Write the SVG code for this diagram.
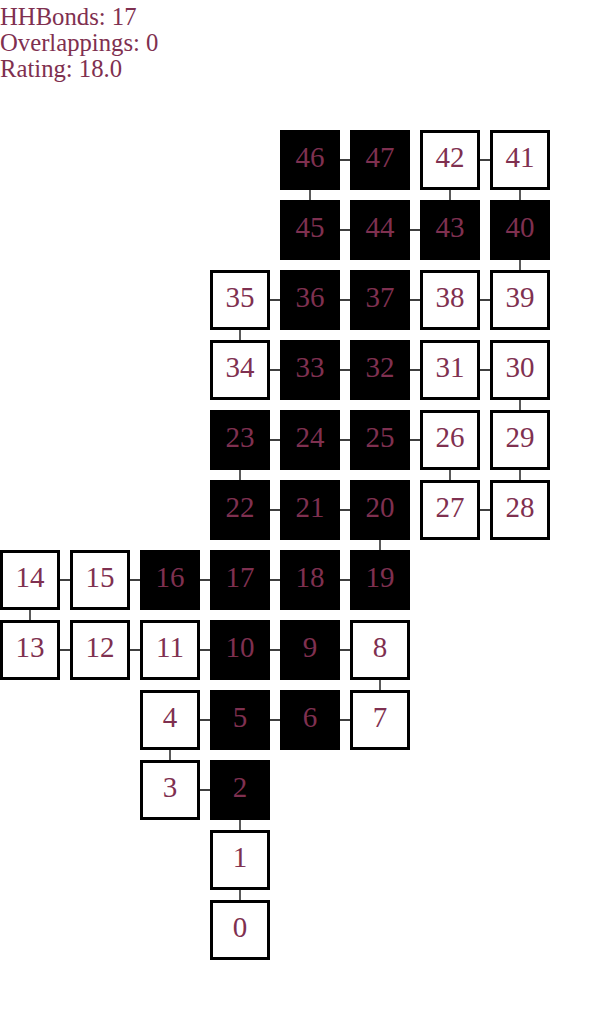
<svg xmlns="http://www.w3.org/2000/svg" width="600" height="1025" viewBox="0 0 600 1025">
<style>
text{font-family:"Liberation Serif","Times New Roman",serif;fill:#7f3050}
.h{font-size:24.7px}
.l{font-size:29px;text-anchor:middle}
.w{fill:#fff;stroke:#000;stroke-width:3}
.b{fill:#000}
#connectors line{stroke:#000;stroke-width:1.3}
</style>
<rect width="600" height="1025" fill="#fff"/>
<g id="header">
<text class="h" x="0" y="25">HHBonds: 17</text>
<text class="h" x="0" y="51">Overlappings: 0</text>
<text class="h" x="0" y="77">Rating: 18.0</text>
</g>
<g id="connectors">
<line x1="240" y1="930" x2="240" y2="860"/>
<line x1="240" y1="860" x2="240" y2="790"/>
<line x1="240" y1="790" x2="170" y2="790"/>
<line x1="170" y1="790" x2="170" y2="720"/>
<line x1="170" y1="720" x2="240" y2="720"/>
<line x1="240" y1="720" x2="310" y2="720"/>
<line x1="310" y1="720" x2="380" y2="720"/>
<line x1="380" y1="720" x2="380" y2="650"/>
<line x1="380" y1="650" x2="310" y2="650"/>
<line x1="310" y1="650" x2="240" y2="650"/>
<line x1="240" y1="650" x2="170" y2="650"/>
<line x1="170" y1="650" x2="100" y2="650"/>
<line x1="100" y1="650" x2="30" y2="650"/>
<line x1="30" y1="650" x2="30" y2="580"/>
<line x1="30" y1="580" x2="100" y2="580"/>
<line x1="100" y1="580" x2="170" y2="580"/>
<line x1="170" y1="580" x2="240" y2="580"/>
<line x1="240" y1="580" x2="310" y2="580"/>
<line x1="310" y1="580" x2="380" y2="580"/>
<line x1="380" y1="580" x2="380" y2="510"/>
<line x1="380" y1="510" x2="310" y2="510"/>
<line x1="310" y1="510" x2="240" y2="510"/>
<line x1="240" y1="510" x2="240" y2="440"/>
<line x1="240" y1="440" x2="310" y2="440"/>
<line x1="310" y1="440" x2="380" y2="440"/>
<line x1="380" y1="440" x2="450" y2="440"/>
<line x1="450" y1="440" x2="450" y2="510"/>
<line x1="450" y1="510" x2="520" y2="510"/>
<line x1="520" y1="510" x2="520" y2="440"/>
<line x1="520" y1="440" x2="520" y2="370"/>
<line x1="520" y1="370" x2="450" y2="370"/>
<line x1="450" y1="370" x2="380" y2="370"/>
<line x1="380" y1="370" x2="310" y2="370"/>
<line x1="310" y1="370" x2="240" y2="370"/>
<line x1="240" y1="370" x2="240" y2="300"/>
<line x1="240" y1="300" x2="310" y2="300"/>
<line x1="310" y1="300" x2="380" y2="300"/>
<line x1="380" y1="300" x2="450" y2="300"/>
<line x1="450" y1="300" x2="520" y2="300"/>
<line x1="520" y1="300" x2="520" y2="230"/>
<line x1="520" y1="230" x2="520" y2="160"/>
<line x1="520" y1="160" x2="450" y2="160"/>
<line x1="450" y1="160" x2="450" y2="230"/>
<line x1="450" y1="230" x2="380" y2="230"/>
<line x1="380" y1="230" x2="310" y2="230"/>
<line x1="310" y1="230" x2="310" y2="160"/>
<line x1="310" y1="160" x2="380" y2="160"/>
</g>
<g id="n0"><rect class="w" x="211.5" y="901.5" width="57" height="57"/><text class="l" x="240" y="937">0</text></g>
<g id="n1"><rect class="w" x="211.5" y="831.5" width="57" height="57"/><text class="l" x="240" y="867">1</text></g>
<g id="n2"><rect class="b" x="210" y="760" width="60" height="60"/><text class="l" x="240" y="797">2</text></g>
<g id="n3"><rect class="w" x="141.5" y="761.5" width="57" height="57"/><text class="l" x="170" y="797">3</text></g>
<g id="n4"><rect class="w" x="141.5" y="691.5" width="57" height="57"/><text class="l" x="170" y="727">4</text></g>
<g id="n5"><rect class="b" x="210" y="690" width="60" height="60"/><text class="l" x="240" y="727">5</text></g>
<g id="n6"><rect class="b" x="280" y="690" width="60" height="60"/><text class="l" x="310" y="727">6</text></g>
<g id="n7"><rect class="w" x="351.5" y="691.5" width="57" height="57"/><text class="l" x="380" y="727">7</text></g>
<g id="n8"><rect class="w" x="351.5" y="621.5" width="57" height="57"/><text class="l" x="380" y="657">8</text></g>
<g id="n9"><rect class="b" x="280" y="620" width="60" height="60"/><text class="l" x="310" y="657">9</text></g>
<g id="n10"><rect class="b" x="210" y="620" width="60" height="60"/><text class="l" x="240" y="657">10</text></g>
<g id="n11"><rect class="w" x="141.5" y="621.5" width="57" height="57"/><text class="l" x="170" y="657">11</text></g>
<g id="n12"><rect class="w" x="71.5" y="621.5" width="57" height="57"/><text class="l" x="100" y="657">12</text></g>
<g id="n13"><rect class="w" x="1.5" y="621.5" width="57" height="57"/><text class="l" x="30" y="657">13</text></g>
<g id="n14"><rect class="w" x="1.5" y="551.5" width="57" height="57"/><text class="l" x="30" y="587">14</text></g>
<g id="n15"><rect class="w" x="71.5" y="551.5" width="57" height="57"/><text class="l" x="100" y="587">15</text></g>
<g id="n16"><rect class="b" x="140" y="550" width="60" height="60"/><text class="l" x="170" y="587">16</text></g>
<g id="n17"><rect class="b" x="210" y="550" width="60" height="60"/><text class="l" x="240" y="587">17</text></g>
<g id="n18"><rect class="b" x="280" y="550" width="60" height="60"/><text class="l" x="310" y="587">18</text></g>
<g id="n19"><rect class="b" x="350" y="550" width="60" height="60"/><text class="l" x="380" y="587">19</text></g>
<g id="n20"><rect class="b" x="350" y="480" width="60" height="60"/><text class="l" x="380" y="517">20</text></g>
<g id="n21"><rect class="b" x="280" y="480" width="60" height="60"/><text class="l" x="310" y="517">21</text></g>
<g id="n22"><rect class="b" x="210" y="480" width="60" height="60"/><text class="l" x="240" y="517">22</text></g>
<g id="n23"><rect class="b" x="210" y="410" width="60" height="60"/><text class="l" x="240" y="447">23</text></g>
<g id="n24"><rect class="b" x="280" y="410" width="60" height="60"/><text class="l" x="310" y="447">24</text></g>
<g id="n25"><rect class="b" x="350" y="410" width="60" height="60"/><text class="l" x="380" y="447">25</text></g>
<g id="n26"><rect class="w" x="421.5" y="411.5" width="57" height="57"/><text class="l" x="450" y="447">26</text></g>
<g id="n27"><rect class="w" x="421.5" y="481.5" width="57" height="57"/><text class="l" x="450" y="517">27</text></g>
<g id="n28"><rect class="w" x="491.5" y="481.5" width="57" height="57"/><text class="l" x="520" y="517">28</text></g>
<g id="n29"><rect class="w" x="491.5" y="411.5" width="57" height="57"/><text class="l" x="520" y="447">29</text></g>
<g id="n30"><rect class="w" x="491.5" y="341.5" width="57" height="57"/><text class="l" x="520" y="377">30</text></g>
<g id="n31"><rect class="w" x="421.5" y="341.5" width="57" height="57"/><text class="l" x="450" y="377">31</text></g>
<g id="n32"><rect class="b" x="350" y="340" width="60" height="60"/><text class="l" x="380" y="377">32</text></g>
<g id="n33"><rect class="b" x="280" y="340" width="60" height="60"/><text class="l" x="310" y="377">33</text></g>
<g id="n34"><rect class="w" x="211.5" y="341.5" width="57" height="57"/><text class="l" x="240" y="377">34</text></g>
<g id="n35"><rect class="w" x="211.5" y="271.5" width="57" height="57"/><text class="l" x="240" y="307">35</text></g>
<g id="n36"><rect class="b" x="280" y="270" width="60" height="60"/><text class="l" x="310" y="307">36</text></g>
<g id="n37"><rect class="b" x="350" y="270" width="60" height="60"/><text class="l" x="380" y="307">37</text></g>
<g id="n38"><rect class="w" x="421.5" y="271.5" width="57" height="57"/><text class="l" x="450" y="307">38</text></g>
<g id="n39"><rect class="w" x="491.5" y="271.5" width="57" height="57"/><text class="l" x="520" y="307">39</text></g>
<g id="n40"><rect class="b" x="490" y="200" width="60" height="60"/><text class="l" x="520" y="237">40</text></g>
<g id="n41"><rect class="w" x="491.5" y="131.5" width="57" height="57"/><text class="l" x="520" y="167">41</text></g>
<g id="n42"><rect class="w" x="421.5" y="131.5" width="57" height="57"/><text class="l" x="450" y="167">42</text></g>
<g id="n43"><rect class="b" x="420" y="200" width="60" height="60"/><text class="l" x="450" y="237">43</text></g>
<g id="n44"><rect class="b" x="350" y="200" width="60" height="60"/><text class="l" x="380" y="237">44</text></g>
<g id="n45"><rect class="b" x="280" y="200" width="60" height="60"/><text class="l" x="310" y="237">45</text></g>
<g id="n46"><rect class="b" x="280" y="130" width="60" height="60"/><text class="l" x="310" y="167">46</text></g>
<g id="n47"><rect class="b" x="350" y="130" width="60" height="60"/><text class="l" x="380" y="167">47</text></g>
</svg>
